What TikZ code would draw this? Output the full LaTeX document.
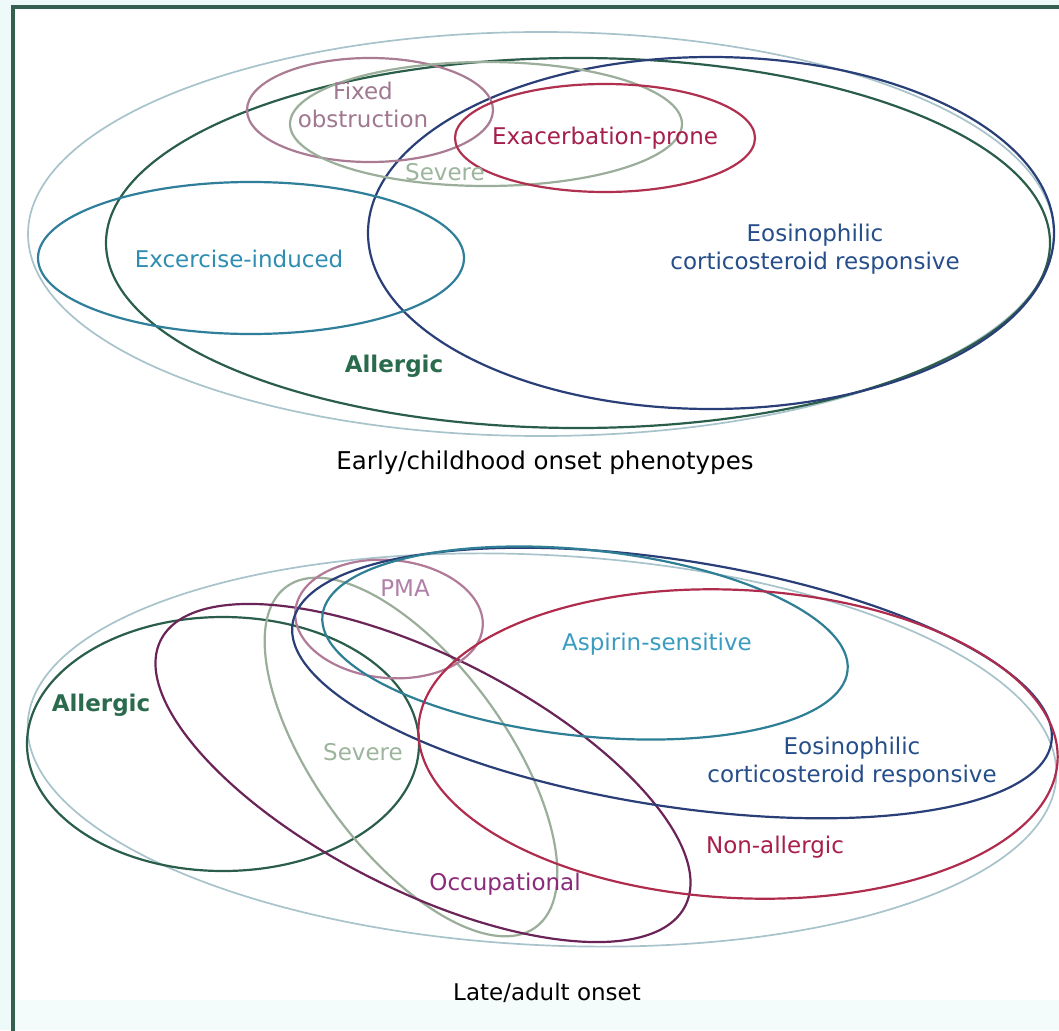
\documentclass[tikz,border=0pt]{standalone}
\usepackage{fontspec}
\setmainfont{DejaVu Sans}
\definecolor{framec}{HTML}{35604F}
\definecolor{bgout}{HTML}{EEF9F9}
\definecolor{outerc}{HTML}{A8C3CB}
\definecolor{allergc}{HTML}{2B5E4A}
\definecolor{allergt}{HTML}{2A6B4E}
\definecolor{eosc}{HTML}{2A3F78}
\definecolor{eost}{HTML}{264E8A}
\definecolor{exerc}{HTML}{2F7F9A}
\definecolor{exert}{HTML}{2E8DB0}
\definecolor{fixc}{HTML}{A97C93}
\definecolor{fixt}{HTML}{A07890}
\definecolor{sevc}{HTML}{9AAE9A}
\definecolor{sevt}{HTML}{9CB59C}
\definecolor{exac}{HTML}{B03050}
\definecolor{exat}{HTML}{A61E4D}
\definecolor{aspc}{HTML}{2E7F95}
\definecolor{aspt}{HTML}{3A9CC0}
\definecolor{nonc}{HTML}{B02C4E}
\definecolor{nont}{HTML}{A8204A}
\definecolor{occc}{HTML}{6B2458}
\definecolor{occt}{HTML}{8B2A7A}
\definecolor{pmac}{HTML}{B07A98}
\definecolor{pmat}{HTML}{B080A8}
\tikzset{
  ring/.style={line width=2.2pt},
  outerring/.style={line width=1.7pt, draw=outerc},
  lbl/.style={font=\fontsize{23}{28}\selectfont, align=center, inner sep=0pt},
  captxt/.style={font=\fontsize{23}{28}\selectfont, text=black, inner sep=0pt}
}
\begin{document}
\begin{tikzpicture}[x=1pt,y=-1pt]
\useasboundingbox (0,0) rectangle (1059,1030);
\fill[bgout] (0,0) rectangle (1059,1030);
\fill[white] (13,7) rectangle (1070,1000);
\fill[bgout!70!white] (13,1000) rectangle (1070,1030);
\draw[framec, line width=3.2pt] (13,1040) -- (13,7) -- (1070,7);

% ---------- top panel ----------
\draw[outerring] (541,234) ellipse [x radius=513pt, y radius=202pt];
\draw[ring, draw=allergc] (578,243) ellipse [x radius=472pt, y radius=185pt];
\draw[ring, draw=eosc] (711,233) ellipse [x radius=343pt, y radius=176pt];
\draw[ring, draw=exerc] (251,258) ellipse [x radius=213pt, y radius=76pt];
\draw[ring, draw=fixc] (370,110) ellipse [x radius=123pt, y radius=52pt];
\draw[ring, draw=sevc] (486,124) ellipse [x radius=196pt, y radius=62pt];
\draw[ring, draw=exac] (605,138) ellipse [x radius=150pt, y radius=54pt];

\node[lbl, text=fixt] (tFixed) at (363,105) {Fixed\\obstruction};
\node[lbl, text=sevt] (tSevere) at (445,172) {Severe};
\node[lbl, text=exat] (tExa) at (605,138) {Exacerbation-prone};
\node[lbl, text=exert] (tExer) at (239,259) {Excercise-induced};
\node[lbl, text=eost] (tEos) at (815,249) {Eosinophilic\\corticosteroid responsive};
\node[lbl, text=allergt, font=\fontsize{23}{28}\selectfont\bfseries] (tAll) at (394,366) {Allergic};
\node[captxt, font=\fontsize{24.5}{28}\selectfont] (tEarly) at (545,463) {Early/childhood onset phenotypes};

% ---------- bottom panel ----------
\draw[outerring, rotate around={-3:(542,750)}] (542,750) ellipse [x radius=515pt, y radius=195pt];
\draw[ring, draw=allergc] (223,744) ellipse [x radius=196pt, y radius=127pt];
\draw[ring, draw=sevc, rotate around={-53.8:(411,757)}] (411,757) ellipse [x radius=211pt, y radius=95pt];
\draw[ring, draw=occc, rotate around={-26.9:(423,773)}] (423,773) ellipse [x radius=294pt, y radius=117pt];
\draw[ring, draw=pmac, rotate around={-5:(389,619)}] (389,619) ellipse [x radius=94pt, y radius=59pt];
\draw[ring, draw=eosc, rotate around={-8.9:(672,683)}] (672,683) ellipse [x radius=384pt, y radius=123pt];
\draw[ring, draw=aspc, rotate around={-6:(585,643)}] (585,643) ellipse [x radius=264pt, y radius=93pt];
\draw[ring, draw=nonc, rotate around={-3:(738,744)}] (738,744) ellipse [x radius=320pt, y radius=154pt];

\node[lbl, text=pmat] (bPMA) at (405,588) {PMA};
\node[lbl, text=aspt] (bAsp) at (657,644) {Aspirin-sensitive};
\node[lbl, text=eost] (bEos) at (852,762) {Eosinophilic\\corticosteroid responsive};
\node[lbl, text=sevt] (bSev) at (363,752) {Severe};
\node[lbl, text=nont] (bNon) at (775,847) {Non-allergic};
\node[lbl, text=occt] (bOcc) at (505,884) {Occupational};
\node[lbl, text=allergt, font=\fontsize{23}{28}\selectfont\bfseries] (bAll) at (101,705) {Allergic};
\node[captxt] (bLate) at (547,993) {Late/adult onset};
\end{tikzpicture}
\end{document}
